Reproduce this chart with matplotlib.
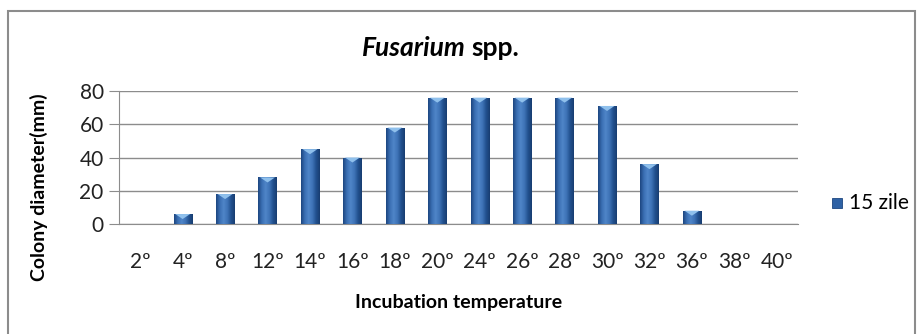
import numpy as np
import matplotlib
matplotlib.use("Agg")
import matplotlib.pyplot as plt
from matplotlib.colors import LinearSegmentedColormap
from matplotlib.patches import Rectangle, Polygon

plt.rcParams['font.family'] = ['Lato', 'DejaVu Sans']

temperatures = ["2º", "4º", "8º", "12º", "14º", "16º", "18º", "20º",
                "24º", "26º", "28º", "30º", "32º", "36º", "38º", "40º"]
diameter_15 = [0, 6, 18, 28, 45, 40, 58, 76, 76, 76, 76, 71, 36, 8, 0, 0]
series_name = "15 zile"

fig = plt.figure(figsize=(9.17, 3.34), dpi=100)
ax = fig.add_axes([119 / 917, 1 - 224 / 334, (798 - 119) / 917, (224 - 91) / 334])

# frame round the whole chart
fig.patches.append(Rectangle((8 / 917, -0.1), (915 - 8) / 917, 1.1 - 11 / 334,
                             transform=fig.transFigure, fill=False,
                             edgecolor="#8c8c8c", linewidth=1.5))

x = np.arange(len(temperatures))
width = 0.43

shade = LinearSegmentedColormap.from_list(
    "bar", ["#1d4680", "#3a6fb3", "#4f85c8", "#3f74b8", "#22518f", "#183d70"])
grad = np.linspace(0, 1, 64).reshape(1, -1)
units_per_px = 80 / (224 - 91)

for xi, v in zip(x, diameter_15):
    if v <= 0:
        continue
    left = xi - width / 2
    rect = Rectangle((left, 0), width, v, facecolor="none", edgecolor="none")
    ax.add_patch(rect)
    im = ax.imshow(grad, cmap=shade, aspect="auto",
                   extent=(left, left + width, 0, v), zorder=3)
    im.set_clip_path(rect)
    cap = min(5 * units_per_px, v * 0.5)
    tri = Polygon([(left + 0.04, v), (left + width - 0.04, v), (xi, v - cap)],
                  closed=True, facecolor="#8fc0ec", edgecolor="none", zorder=4)
    ax.add_patch(tri)

ax.set_xlim(-0.5, len(temperatures) - 0.5)
ax.set_ylim(0, 80)

ax.set_yticks([0, 20, 40, 60, 80])
ax.yaxis.grid(True, color="#8c8c8c", linewidth=1.0)
ax.set_axisbelow(True)
ax.tick_params(axis="y", length=7, color="#8c8c8c", labelsize=15, pad=4,
               labelcolor="#222222")
ax.set_xticks(x)
ax.set_xticklabels(temperatures)
ax.tick_params(axis="x", length=0, labelsize=15, pad=20, labelcolor="#222222")
for side in ("top", "right"):
    ax.spines[side].set_visible(False)
for side in ("left", "bottom"):
    ax.spines[side].set_color("#8c8c8c")

ax.set_ylabel("Colony diameter(mm)", fontsize=14, fontweight="bold")
ax.yaxis.set_label_coords(-0.104, 0.28)
ax.set_xlabel("Incubation temperature", fontsize=14, fontweight="bold", labelpad=16)

fig.text(466 / 917, 1 - 48 / 334, "Fusarium", fontsize=19, fontweight="bold",
         fontstyle="italic", ha="right", va="center")
fig.text(471 / 917, 1 - 48 / 334, "spp.", fontsize=19, fontweight="bold",
         ha="left", va="center")

# legend entry
fig.patches.append(Rectangle((832 / 917, 1 - 208 / 334), 10 / 917, 10 / 334,
                             transform=fig.transFigure, facecolor="#2f62a5",
                             edgecolor="#1d4680", linewidth=0.6))
fig.text(849 / 917, 1 - 203 / 334, series_name, fontsize=15, ha="left", va="center")

fig.savefig("out.png", dpi=100)
